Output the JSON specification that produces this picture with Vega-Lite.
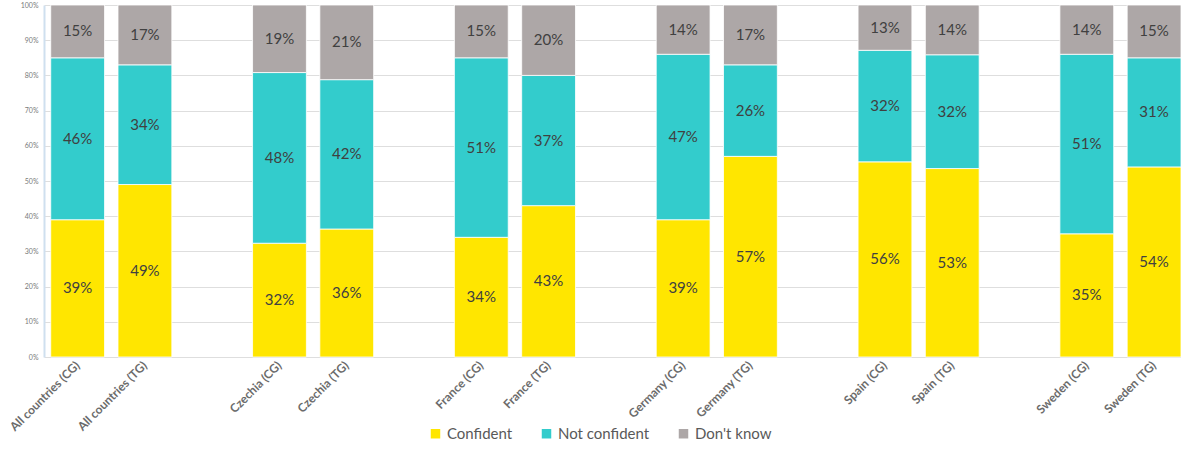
{
  "$schema": "https://vega.github.io/schema/vega-lite/v6.json",
  "autosize": "none",
  "width": 1137,
  "height": 352,
  "padding": {"left": 44, "top": 5, "right": 0, "bottom": 93},
  "background": "white",
  "config": {
    "view": {"stroke": null},
    "font": "Lato",
    "axisY": {
      "title": null,
      "values": [0, 0.1, 0.2, 0.3, 0.4, 0.5, 0.6, 0.7, 0.8, 0.9, 1],
      "format": ".0%",
      "labelOverlap": false,
      "labelFontSize": 7,
      "labelColor": "#7a7a7a",
      "labelPadding": 6,
      "ticks": false,
      "domainColor": "#cfe0ef",
      "domainWidth": 2,
      "gridColor": "#dedede",
      "gridWidth": 1
    }
  },
  "data": {
    "values": [
      {"group": "All countries (CG)", "answer": "Confident", "k": 1, "share": 0.39},
      {"group": "All countries (CG)", "answer": "Not confident", "k": 2, "share": 0.46},
      {"group": "All countries (CG)", "answer": "Don't know", "k": 3, "share": 0.15},
      {"group": "All countries (TG)", "answer": "Confident", "k": 1, "share": 0.49},
      {"group": "All countries (TG)", "answer": "Not confident", "k": 2, "share": 0.34},
      {"group": "All countries (TG)", "answer": "Don't know", "k": 3, "share": 0.17},
      {"group": "Czechia (CG)", "answer": "Confident", "k": 1, "share": 0.32},
      {"group": "Czechia (CG)", "answer": "Not confident", "k": 2, "share": 0.48},
      {"group": "Czechia (CG)", "answer": "Don't know", "k": 3, "share": 0.19},
      {"group": "Czechia (TG)", "answer": "Confident", "k": 1, "share": 0.36},
      {"group": "Czechia (TG)", "answer": "Not confident", "k": 2, "share": 0.42},
      {"group": "Czechia (TG)", "answer": "Don't know", "k": 3, "share": 0.21},
      {"group": "France (CG)", "answer": "Confident", "k": 1, "share": 0.34},
      {"group": "France (CG)", "answer": "Not confident", "k": 2, "share": 0.51},
      {"group": "France (CG)", "answer": "Don't know", "k": 3, "share": 0.15},
      {"group": "France (TG)", "answer": "Confident", "k": 1, "share": 0.43},
      {"group": "France (TG)", "answer": "Not confident", "k": 2, "share": 0.37},
      {"group": "France (TG)", "answer": "Don't know", "k": 3, "share": 0.20},
      {"group": "Germany (CG)", "answer": "Confident", "k": 1, "share": 0.39},
      {"group": "Germany (CG)", "answer": "Not confident", "k": 2, "share": 0.47},
      {"group": "Germany (CG)", "answer": "Don't know", "k": 3, "share": 0.14},
      {"group": "Germany (TG)", "answer": "Confident", "k": 1, "share": 0.57},
      {"group": "Germany (TG)", "answer": "Not confident", "k": 2, "share": 0.26},
      {"group": "Germany (TG)", "answer": "Don't know", "k": 3, "share": 0.17},
      {"group": "Spain (CG)", "answer": "Confident", "k": 1, "share": 0.56},
      {"group": "Spain (CG)", "answer": "Not confident", "k": 2, "share": 0.32},
      {"group": "Spain (CG)", "answer": "Don't know", "k": 3, "share": 0.13},
      {"group": "Spain (TG)", "answer": "Confident", "k": 1, "share": 0.53},
      {"group": "Spain (TG)", "answer": "Not confident", "k": 2, "share": 0.32},
      {"group": "Spain (TG)", "answer": "Don't know", "k": 3, "share": 0.14},
      {"group": "Sweden (CG)", "answer": "Confident", "k": 1, "share": 0.35},
      {"group": "Sweden (CG)", "answer": "Not confident", "k": 2, "share": 0.51},
      {"group": "Sweden (CG)", "answer": "Don't know", "k": 3, "share": 0.14},
      {"group": "Sweden (TG)", "answer": "Confident", "k": 1, "share": 0.54},
      {"group": "Sweden (TG)", "answer": "Not confident", "k": 2, "share": 0.31},
      {"group": "Sweden (TG)", "answer": "Don't know", "k": 3, "share": 0.15}
    ]
  },
  "transform": [
    {
      "stack": "share",
      "groupby": ["group"],
      "sort": [{"field": "k", "order": "ascending"}],
      "offset": "normalize",
      "as": ["y0", "y1"]
    },
    {"calculate": "(datum.y0 + datum.y1) / 2", "as": "ymid"}
  ],
  "encoding": {
    "x": {
      "field": "group",
      "type": "nominal",
      "sort": null,
      "scale": {
        "domain": [
          "All countries (CG)", "All countries (TG)", "gap1",
          "Czechia (CG)", "Czechia (TG)", "gap2",
          "France (CG)", "France (TG)", "gap3",
          "Germany (CG)", "Germany (TG)", "gap4",
          "Spain (CG)", "Spain (TG)", "gap5",
          "Sweden (CG)", "Sweden (TG)"
        ],
        "paddingInner": 0.2,
        "paddingOuter": 0.05,
        "align": 1
      },
      "axis": {
        "title": null,
        "domain": false,
        "ticks": false,
        "labelAngle": -45,
        "labelAlign": "right",
        "labelBaseline": "middle",
        "labelPadding": 6,
        "labelFontSize": 12,
        "labelFontWeight": "bold",
        "labelColor": "#6b6b6b",
        "labelExpr": "indexof(datum.label, 'gap') === 0 ? '' : datum.label"
      }
    }
  },
  "layer": [
    {
      "mark": {"type": "bar", "stroke": "white", "strokeWidth": 0.8},
      "encoding": {
        "y": {
          "field": "y0",
          "type": "quantitative",
          "scale": {"domain": [0, 1], "nice": false},
          "title": null
        },
        "y2": {"field": "y1"},
        "color": {
          "field": "answer",
          "type": "nominal",
          "scale": {
            "domain": ["Confident", "Not confident", "Don't know"],
            "range": ["#FFE600", "#33CCCC", "#ADA7A7"]
          },
          "legend": {
            "title": null,
            "orient": "none",
            "direction": "horizontal",
            "legendX": 384,
            "legendY": 421,
            "symbolType": "square",
            "symbolSize": 90,
            "symbolStrokeWidth": 0,
            "labelFontSize": 15,
            "labelColor": "#595959",
            "labelOffset": 4,
            "columnPadding": 26
          }
        }
      }
    },
    {
      "mark": {"type": "text", "fontSize": 15, "color": "#404040"},
      "encoding": {
        "y": {"field": "ymid", "type": "quantitative", "title": null},
        "text": {"field": "share", "type": "quantitative", "format": ".0%"}
      }
    }
  ]
}
